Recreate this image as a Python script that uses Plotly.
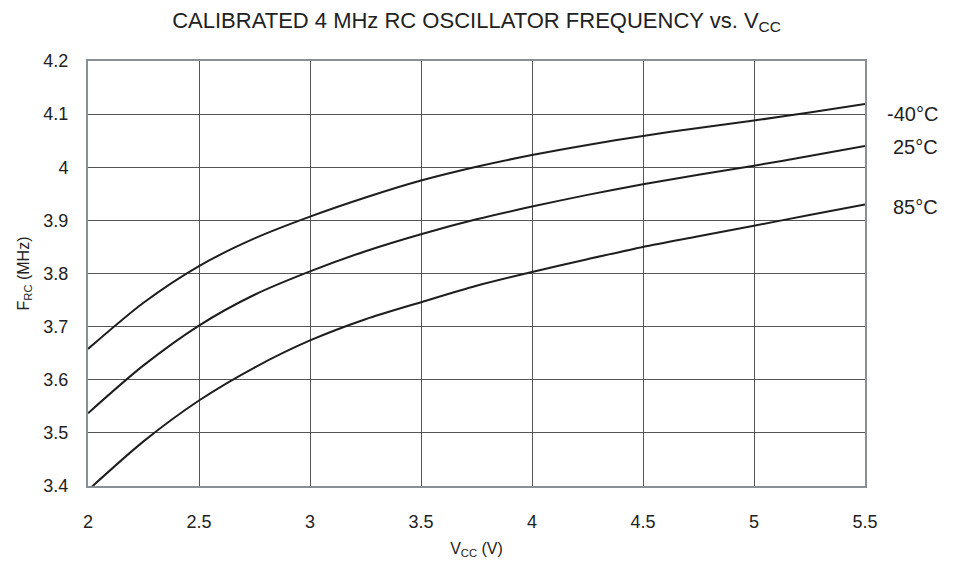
import plotly.graph_objects as go

# Supply voltage (V)
vcc = [2.0, 2.25, 2.5, 2.75, 3.0, 3.25, 3.5, 3.75, 4.0, 4.25, 4.5, 4.75, 5.0, 5.25, 5.5]

# Calibrated RC oscillator frequency (MHz) per temperature
f_m40 = [3.658, 3.745, 3.814, 3.866, 3.907, 3.943, 3.975, 4.001, 4.023, 4.042, 4.059, 4.074, 4.088, 4.103, 4.119]
f_25 = [3.537, 3.627, 3.702, 3.760, 3.804, 3.842, 3.874, 3.902, 3.926, 3.948, 3.968, 3.986, 4.003, 4.021, 4.040]
f_85 = [3.392, 3.484, 3.561, 3.623, 3.674, 3.714, 3.746, 3.777, 3.803, 3.827, 3.850, 3.870, 3.890, 3.910, 3.930]

labels = ["-40°C", "25°C", "85°C"]
label_y = [4.100, 4.038, 3.925]

FONT = "Liberation Sans, Arial, sans-serif"

fig = go.Figure()
for name, ys in zip(labels, [f_m40, f_25, f_85]):
    fig.add_trace(go.Scatter(
        x=vcc, y=ys, mode="lines", name=name,
        line=dict(color="#1e1e1e", width=2, shape="spline", smoothing=0.8),
        showlegend=False,
    ))

# Curve labels to the right of the plot
for name, yv in zip(labels, label_y):
    fig.add_annotation(
        x=1.0965, xref="paper", xanchor="right",
        y=yv, yref="y", yanchor="middle",
        text=name, showarrow=False,
        font=dict(size=20, color="#222"),
    )

fig.update_layout(
    width=950, height=559,
    paper_bgcolor="white", plot_bgcolor="white",
    font=dict(family=FONT, color="#222"),
    margin=dict(l=80, r=93, t=53, b=77),
    title=dict(
        text="CALIBRATED 4 MHz RC OSCILLATOR FREQUENCY vs. V<sub>CC</sub>",
        x=0.5, xanchor="center", xref="paper",
        y=1 - 12 / 559, yanchor="middle", yref="container",
        font=dict(size=22, color="#222"),
    ),
    xaxis=dict(
        range=[2, 5.5], dtick=0.5, tick0=2,
        showgrid=True, gridcolor="#555", gridwidth=1,
        showline=True, linecolor="#8a8f94", linewidth=2, mirror=True,
        zeroline=False, ticks="", ticklabelstandoff=18,
        tickfont=dict(size=18),
        title=dict(text="V<sub>CC</sub> (V)", font=dict(size=16), standoff=12),
    ),
    yaxis=dict(
        range=[3.4, 4.2], dtick=0.1, tick0=3.4,
        showgrid=True, gridcolor="#555", gridwidth=1,
        showline=True, linecolor="#8a8f94", linewidth=2, mirror=True,
        zeroline=False, ticks="", ticklabelstandoff=14,
        tickfont=dict(size=18),
        title=dict(text="F<sub>RC</sub> (MHz)", font=dict(size=16), standoff=10),
    ),
)

fig.write_html("out.html")
